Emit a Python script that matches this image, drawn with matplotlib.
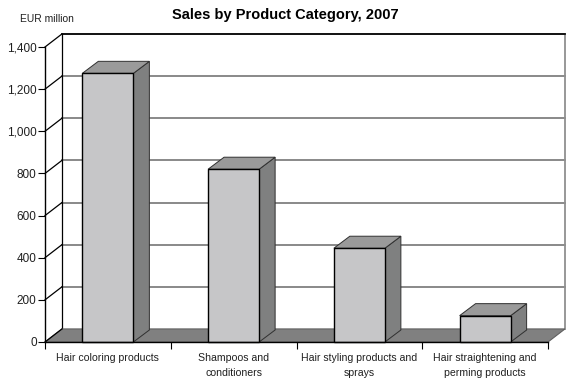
import matplotlib.pyplot as plt
from matplotlib.patches import Polygon

categories = ["Hair coloring products", "Shampoos and\nconditioners",
              "Hair styling products and\nsprays", "Hair straightening and\nperming products"]
sales = [1275, 820, 445, 125]
yticks = [0, 200, 400, 600, 800, 1000, 1200, 1400]
ytick_labels = ["0", "200", "400", "600", "800", "1,000", "1,200", "1,400"]

narrow = ["Liberation Sans Narrow", "Liberation Sans", "DejaVu Sans"]

fig = plt.figure(figsize=(5.66, 3.79), dpi=100)
ax = fig.add_axes([45 / 566, 37 / 379, 503 / 566, 295 / 379])
ax.set_xlim(0, 4)
ax.set_ylim(0, 1400)

# depth of the 3d box (walls) and of the bars, in data units
dx, dy = 0.135, 62
bdx, bdy = 0.127, 57
n = len(categories)

# floor
ax.add_patch(Polygon([(0, 0), (n, 0), (n + dx, dy), (dx, dy)], closed=True,
                     facecolor="#808080", edgecolor="#606060", lw=0.8,
                     clip_on=False, zorder=1))

# back wall grid + side wall
for v in yticks[1:]:
    ax.plot([dx, n + dx], [v + dy, v + dy], color="#808080", lw=1.3,
            clip_on=False, zorder=0.5)
for v in yticks:
    ax.plot([0, dx], [v, v + dy], color="black", lw=0.9, clip_on=False, zorder=2)
ax.plot([dx, n + dx], [1400 + dy, 1400 + dy], color="black", lw=1.2, clip_on=False, zorder=2)
ax.plot([dx, dx], [dy, 1400 + dy], color="black", lw=0.9, clip_on=False, zorder=0.6)
ax.plot([n + dx, n + dx], [dy, 1400 + dy], color="#909090", lw=1.3, clip_on=False, zorder=0.6)

# bars
w = 0.406
for i, v in enumerate(sales):
    x0 = i + 0.5 - w / 2
    x1 = x0 + w
    ax.add_patch(Polygon([(x1, 0), (x1 + bdx, bdy), (x1 + bdx, v + bdy), (x1, v)],
                         facecolor="#7f8080", edgecolor="#303030", lw=0.7,
                         clip_on=False, zorder=3))
    ax.add_patch(Polygon([(x0, v), (x1, v), (x1 + bdx, v + bdy), (x0 + bdx, v + bdy)],
                         facecolor="#9a9a9a", edgecolor="#303030", lw=0.7,
                         clip_on=False, zorder=3))
    ax.add_patch(Polygon([(x0, 0), (x1, 0), (x1, v), (x0, v)],
                         facecolor="#c6c6c8", edgecolor="black", lw=1.0,
                         clip_on=False, zorder=4))

for s in ["top", "right"]:
    ax.spines[s].set_visible(False)
ax.spines["left"].set_linewidth(1.0)
ax.spines["bottom"].set_linewidth(1.0)
ax.spines["bottom"].set_zorder(5)

ax.set_yticks(yticks)
ax.set_yticklabels(ytick_labels, family=narrow, fontsize=8.5, color="#202020")
ax.tick_params(axis="y", length=5, width=0.8, pad=1)

ax.set_xticks(range(n + 1))
ax.set_xticklabels([""] * (n + 1))
ax.tick_params(axis="x", which="major", length=5, width=0.8)
ax.set_xticks([i + 0.5 for i in range(n)], minor=True)
ax.set_xticklabels(categories, minor=True, family=narrow, fontsize=7.6,
                   color="#202020", linespacing=1.65)
ax.tick_params(axis="x", which="minor", length=0, pad=8)

fig.text(20 / 566, 1 - 19 / 379, "EUR million", family=narrow, fontsize=7.4,
         color="#202020", va="center", ha="left")
fig.text(285 / 566, 1 - 15 / 379, "Sales by Product Category, 2007",
         family=["Liberation Sans", "DejaVu Sans"], fontweight="heavy",
         fontsize=10.5, va="center", ha="center")

fig.savefig("out.png", dpi=100)
